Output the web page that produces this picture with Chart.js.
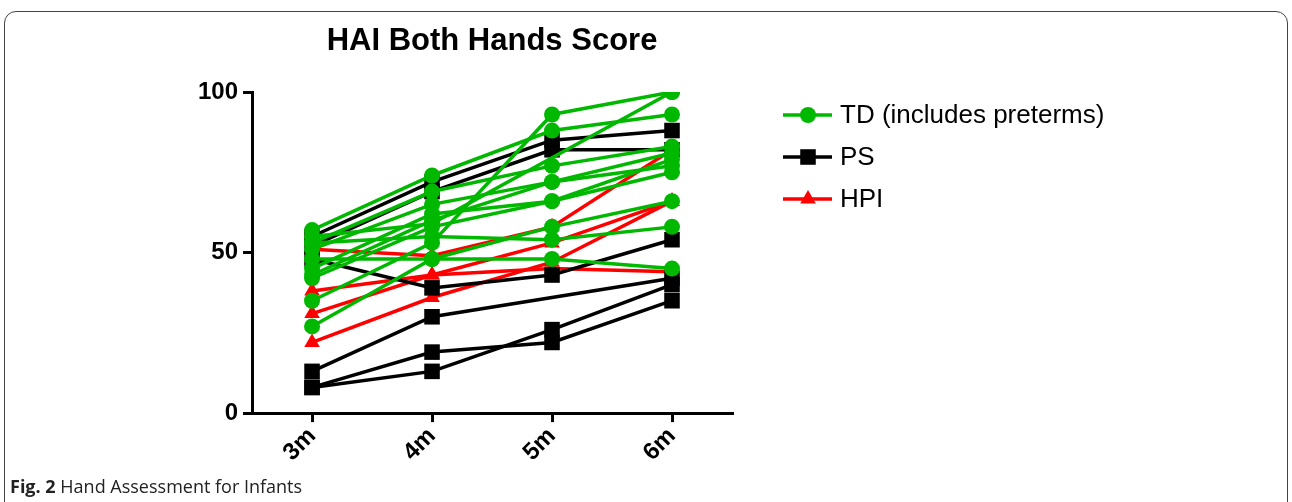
<!DOCTYPE html>
<html>
<head>
<meta charset="utf-8">
<script src="https://cdn.jsdelivr.net/npm/chart.js@4"></script>
<style>
  html, body { margin: 0; padding: 0; background: #fff; }
  body { width: 1292px; height: 502px; position: relative; overflow: hidden; }
  #frame {
    position: absolute; left: 4px; top: 11px; width: 1284px; height: 520px;
    border: 1.5px solid #444; border-radius: 12px; box-sizing: border-box;
  }
  #wrap { position: absolute; left: 0; top: 0; width: 1292px; height: 502px; }
  #caption {
    position: absolute; left: 10px; top: 474px;
    font-family: "Open Sans", "Noto Sans", sans-serif; font-size: 18px; color: #222;
  }
  #caption b { color: #222; }
</style>
</head>
<body>
<div id="frame"></div>
<div id="wrap"><canvas id="myChart"></canvas></div>
<div id="caption"><b>Fig. 2</b> Hand Assessment for Infants</div>
<script>
// time points
var categories = ['3m', '4m', '5m', '6m'];

// TD (includes preterms) - one array per infant
var tdScores = [
    [57, 74, 88, 93],
    [35, 53, 93, 100],
    [55, 59, null, 100],
    [53, 69, 77, 83],
    [51, 65, 72, 81],
    [45, 62, 66, 79],
    [43, 60, 72, 77],
    [42, 58, 66, 75],
    [48, 48, 48, 45],
    [27, 48, 58, 66],
    [53, 55, 54, 58]
];

// PS
var psScores = [
    [55, 72, 85, 88],
    [52, 69, 82, 82],
    [48, 39, 43, 54],
    [13, 30, null, 42],
    [8, 19, 22, 35],
    [8, 13, 26, 40]
];

// HPI
var hpiScores = [
    [51, 49, 58, 82],
    [38, 43, 53, 66],
    [31, 43, 45, 44],
    [22, 36, 47, 66]
];

var yTicks = [0, 50, 100];

var groups = [
    { label: 'TD (includes preterms)', rows: tdScores, color: '#00b800', style: 'circle', radius: 8 },
    { label: 'PS', rows: psScores, color: '#000000', style: 'rect', radius: 11 },
    { label: 'HPI', rows: hpiScores, color: '#ff0000', style: 'triangle', radius: 9 }
];

var datasets = [];
groups.forEach(function (g) {
    g.rows.forEach(function (row) {
        datasets.push({
            label: g.label,
            data: row,
            borderColor: g.color,
            backgroundColor: g.color,
            borderWidth: 3.5,
            pointStyle: g.style,
            pointRadius: g.radius,
            pointBorderWidth: 0,
            pointBackgroundColor: g.color,
            spanGaps: true,
            tension: 0
        });
    });
});

function marker(ctx, style, r, x, y) {
    ctx.beginPath();
    if (style === 'circle') {
        ctx.arc(x, y, r, 0, Math.PI * 2);
    } else if (style === 'rect') {
        var s = Math.SQRT1_2 * r;
        ctx.rect(x - s, y - s, 2 * s, 2 * s);
    } else {
        ctx.moveTo(x, y - r);
        ctx.lineTo(x + r * 0.866, y + r * 0.5);
        ctx.lineTo(x - r * 0.866, y + r * 0.5);
        ctx.closePath();
    }
    ctx.fill();
}

// title + legend drawn by hand
var extras = {
    id: 'extras',
    afterDraw: function (chart) {
        var ctx = chart.ctx;
        var area = chart.chartArea;
        ctx.save();
        ctx.fillStyle = '#000';
        ctx.font = 'bold 31px Arial, "Liberation Sans"';
        ctx.textAlign = 'center';
        ctx.textBaseline = 'middle';
        ctx.fillText('HAI Both Hands Score', (area.left + area.right) / 2, 41);

        groups.forEach(function (g, i) {
            var y = area.top + 23 + i * 42;
            var x0 = area.right + 51;
            ctx.strokeStyle = g.color;
            ctx.fillStyle = g.color;
            ctx.lineWidth = 3.5;
            ctx.beginPath();
            ctx.moveTo(x0, y);
            ctx.lineTo(x0 + 49, y);
            ctx.stroke();
            marker(ctx, g.style, g.radius, x0 + 25, y);
            ctx.fillStyle = '#000';
            ctx.font = '26px Arial, "Liberation Sans"';
            ctx.textAlign = 'left';
            ctx.fillText(g.label, x0 + 57, y + 1);
        });
        ctx.restore();
    }
};

var ctx = document.getElementById('myChart').getContext('2d');
var chart = new Chart(ctx, {
    type: 'line',
    data: {
        labels: categories,
        datasets: datasets
    },
    options: {
        responsive: true,
        maintainAspectRatio: false,
        animation: false,
        layout: {
            padding: { left: 193, right: 560, top: 92, bottom: 35 }
        },
        plugins: {
            legend: { display: false },
            tooltip: { enabled: false },
            title: { display: false }
        },
        scales: {
            x: {
                offset: true,
                grid: {
                    display: true, drawOnChartArea: false, drawTicks: true,
                    tickLength: 9, color: '#000', lineWidth: 3
                },
                border: { display: true, color: '#000', width: 3 },
                ticks: {
                    color: '#000', maxRotation: 45, minRotation: 45, padding: 0,
                    font: { family: 'Arial, "Liberation Sans"', size: 24, weight: 'bold' }
                }
            },
            y: {
                min: 0,
                max: 100,
                afterBuildTicks: function (axis) {
                    axis.ticks = yTicks.map(function (v) { return { value: v }; });
                },
                grid: {
                    display: true, drawOnChartArea: false, drawTicks: true,
                    tickLength: 9, color: '#000', lineWidth: 3
                },
                border: { display: true, color: '#000', width: 3 },
                ticks: {
                    color: '#000', padding: 5,
                    font: { family: 'Arial, "Liberation Sans"', size: 24, weight: 'bold' }
                }
            }
        }
    },
    plugins: [extras]
});
</script>
</body>
</html>
